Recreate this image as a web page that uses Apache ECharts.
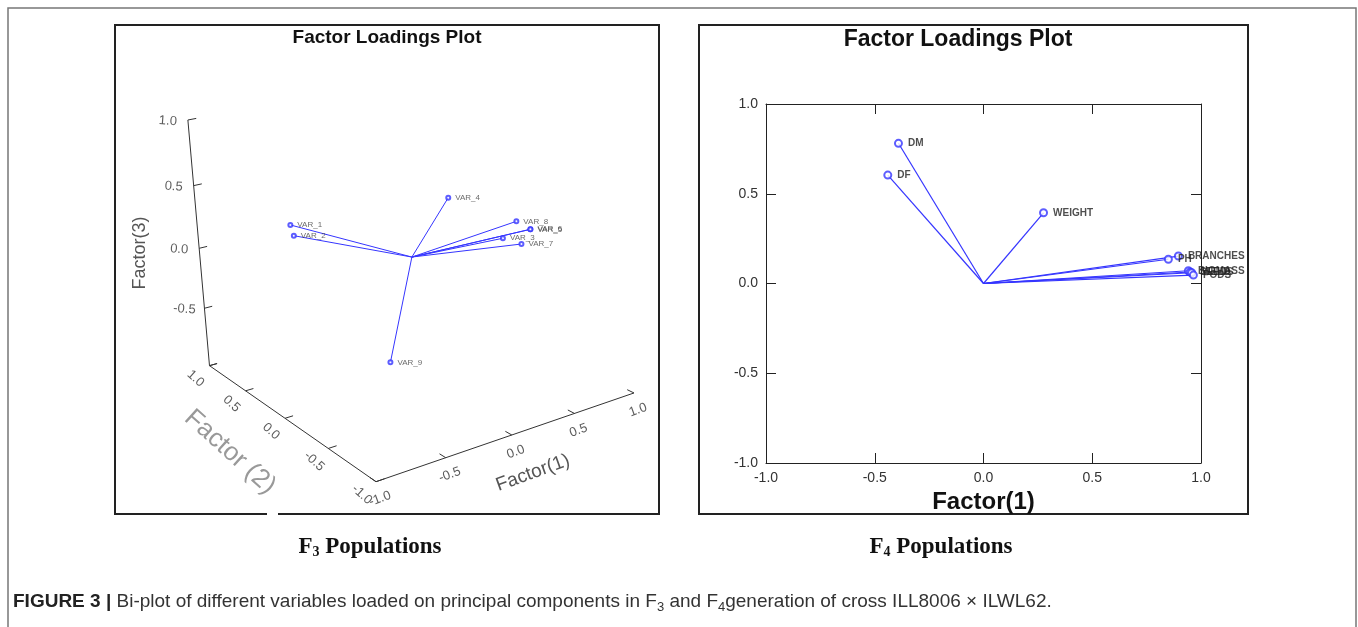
<!DOCTYPE html>
<html>
<head>
<meta charset="utf-8">
<script src="https://cdn.jsdelivr.net/npm/echarts@6/dist/echarts.min.js"></script>
<style>
  html, body { margin: 0; padding: 0; background: #fff; }
  #main { width: 1358px; height: 627px; }
</style>
</head>
<body>
<div id="main"></div>
<script>
// F3 population: loadings on Factor(1), Factor(2), Factor(3)
var f3Names = ['VAR_1', 'VAR_2', 'VAR_3', 'VAR_4', 'VAR_5', 'VAR_6', 'VAR_7', 'VAR_8', 'VAR_9'];
var f3Factor1 = [-0.735, -0.744, 0.740, 0.404, 0.886, 0.930, 0.770, 0.937, -0.111];
var f3Factor2 = [0.25, 0.20, 0.00, 0.15, -0.10, -0.05, -0.15, 0.10, 0.10];
var f3Factor3 = [0.353, 0.290, -0.040, 0.320, 0.027, 0.001, -0.046, 0.018, -0.867];

// F4 population: loadings on Factor(1), Factor(2)
var f4Names = ['DM', 'DF', 'WEIGHT', 'BRANCHES', 'PH', 'BIOMASS', 'SEEDS', 'YIELD', 'PODS'];
var f4Factor1 = [-0.391, -0.440, 0.276, 0.896, 0.850, 0.942, 0.950, 0.957, 0.965];
var f4Factor2 = [0.781, 0.604, 0.394, 0.153, 0.135, 0.071, 0.064, 0.060, 0.047];

// tick labels
var axisTicks3d = [-1.0, -0.5, 0.0, 0.5, 1.0];

(function () {
  var myChart = echarts.init(document.getElementById('main'));
  var blue = '#3535ff';

  // perspective view of the 3d box, front corner = (-1,-1,-1)
  var cam = {
    cx: 376, cy: 481.7,
    A: [143.35, -49.3], B: [-100.3, -69.9], D: [-3.35, -129.4],
    a: 0.0556, b: 0.1024, c: -0.0514
  };
  function project(f1, f2, f3) {
    var u = f1 + 1, v = f2 + 1, w = f3 + 1;
    var d = 1 + cam.a * u + cam.b * v + cam.c * w;
    return [
      cam.cx + (u * cam.A[0] + v * cam.B[0] + w * cam.D[0]) / d,
      cam.cy + (u * cam.A[1] + v * cam.B[1] + w * cam.D[1]) / d
    ];
  }

  var origin = project(0, 0, 0);
  var vecLines = [], vecPts = [];
  for (var i = 0; i < f3Names.length; i++) {
    var p = project(f3Factor1[i], f3Factor2[i], f3Factor3[i]);
    vecLines.push({ coords: [origin, p] });
    vecPts.push({ name: f3Names[i], value: p });
  }

  var axisSegs = [
    { coords: [project(-1, -1, -1), project(1, -1, -1)] },
    { coords: [project(-1, -1, -1), project(-1, 1, -1)] },
    { coords: [project(-1, 1, -1), project(-1, 1, 1)] }
  ];
  var tl = 0.06;
  var f1Labels = [], f2Labels = [], f3Labels = [];
  axisTicks3d.forEach(function (t) {
    var p1 = project(t, -1, -1);
    axisSegs.push({ coords: [p1, project(t, -1 + tl, -1)] });
    f1Labels.push({ name: t.toFixed(1), value: [p1[0] + 4, p1[1] + 17] });
    var p2 = project(-1, t, -1);
    axisSegs.push({ coords: [p2, project(-1 + tl, t, -1)] });
    f2Labels.push({ name: t.toFixed(1), value: [p2[0] - 14, p2[1] + 13] });
    var p3 = project(-1, 1, t);
    axisSegs.push({ coords: [p3, project(-1 + tl, 1, t)] });
    // the bottom of the vertical axis carries no label
    if (t > -1) f3Labels.push({ name: t.toFixed(1), value: [p3[0] - 20, p3[1] + 1] });
  });

  function labelSeries(data, rotate, size, color) {
    return {
      type: 'scatter', xAxisIndex: 0, yAxisIndex: 0, silent: true,
      symbolSize: 1, itemStyle: { color: 'rgba(0,0,0,0)' },
      label: {
        show: true, position: 'inside', formatter: '{b}', rotate: rotate,
        fontFamily: 'Liberation Sans', fontSize: size, color: color
      },
      data: data
    };
  }

  // F4 vectors
  var f4Lines = [], f4Pts = [];
  for (var j = 0; j < f4Names.length; j++) {
    f4Lines.push({ coords: [[0, 0], [f4Factor1[j], f4Factor2[j]]] });
    f4Pts.push({ name: f4Names[j], value: [f4Factor1[j], f4Factor2[j]] });
  }

  var tickFmt = function (v) { return v.toFixed(1); };
  var box = { stroke: '#222', lineWidth: 2 };
  var edgeLine = { show: true, onZero: false, lineStyle: { color: '#222' } };
  var edgeTick = { show: true, inside: true, length: 10, lineStyle: { color: '#222' } };

  var option = {
    animation: false,
    grid: [
      { left: 0, top: 0, width: 1358, height: 627 },
      { left: 766, top: 104, width: 435, height: 359 }
    ],
    xAxis: [
      { gridIndex: 0, type: 'value', min: 0, max: 1358, show: false },
      {
        gridIndex: 1, type: 'value', min: -1, max: 1, interval: 0.5, position: 'bottom',
        name: 'Factor(1)', nameLocation: 'middle', nameGap: 24,
        nameTextStyle: { fontFamily: 'Liberation Sans', fontSize: 24, fontWeight: 'bold', color: '#111' },
        axisLine: edgeLine, axisTick: edgeTick,
        axisLabel: { formatter: tickFmt, fontFamily: 'Liberation Sans', fontSize: 14, color: '#333', margin: 8 },
        splitLine: { show: false }
      },
      {
        gridIndex: 1, type: 'value', min: -1, max: 1, interval: 0.5, position: 'top',
        axisLine: edgeLine, axisTick: edgeTick,
        axisLabel: { show: false }, splitLine: { show: false }
      }
    ],
    yAxis: [
      { gridIndex: 0, type: 'value', min: 0, max: 627, inverse: true, show: false },
      {
        gridIndex: 1, type: 'value', min: -1, max: 1, interval: 0.5, position: 'left',
        axisLine: edgeLine, axisTick: edgeTick,
        axisLabel: { formatter: tickFmt, fontFamily: 'Liberation Sans', fontSize: 14, color: '#333', margin: 8 },
        splitLine: { show: false }
      },
      {
        gridIndex: 1, type: 'value', min: -1, max: 1, interval: 0.5, position: 'right',
        axisLine: edgeLine, axisTick: edgeTick,
        axisLabel: { show: false }, splitLine: { show: false }
      }
    ],
    series: [
      // 3d box axes
      {
        type: 'lines', coordinateSystem: 'cartesian2d', xAxisIndex: 0, yAxisIndex: 0, silent: true,
        lineStyle: { color: '#333', width: 1, opacity: 1 },
        data: axisSegs
      },
      labelSeries(f1Labels, 20, 13, '#333'),
      labelSeries(f2Labels, -42, 13, '#333'),
      labelSeries(f3Labels, -4, 13, '#333'),
      // F3 loading vectors
      {
        type: 'lines', coordinateSystem: 'cartesian2d', xAxisIndex: 0, yAxisIndex: 0, silent: true,
        lineStyle: { color: blue, width: 1, opacity: 1 },
        data: vecLines
      },
      {
        type: 'scatter', xAxisIndex: 0, yAxisIndex: 0, silent: true,
        symbol: 'emptyCircle', symbolSize: 4,
        itemStyle: { color: blue, borderWidth: 1 },
        label: {
          show: true, position: 'right', distance: 4, formatter: '{b}',
          fontFamily: 'Liberation Sans', fontSize: 8, color: '#444'
        },
        data: vecPts
      },
      // F4 loading vectors
      {
        type: 'lines', coordinateSystem: 'cartesian2d', xAxisIndex: 1, yAxisIndex: 1, silent: true,
        lineStyle: { color: blue, width: 1.2, opacity: 1 },
        data: f4Lines
      },
      {
        type: 'scatter', xAxisIndex: 1, yAxisIndex: 1, silent: true,
        symbol: 'emptyCircle', symbolSize: 7,
        itemStyle: { color: blue, borderWidth: 1.2 },
        label: {
          show: true, position: 'right', distance: 5, formatter: '{b}',
          fontFamily: 'Liberation Sans', fontSize: 10, fontWeight: 'bold', color: '#222'
        },
        data: f4Pts
      }
    ],
    graphic: [
      // outer figure frame
      { type: 'polyline', shape: { points: [[8, 627], [8, 8], [1356, 8], [1356, 627]] }, style: { stroke: '#777', lineWidth: 1.5, fill: null } },
      // left panel box (with small gap at bottom)
      { type: 'polyline', shape: { points: [[267, 514], [115, 514], [115, 25], [659, 25], [659, 514], [278, 514]] }, style: { stroke: box.stroke, lineWidth: box.lineWidth, fill: null } },
      // right panel box
      { type: 'rect', shape: { x: 699, y: 25, width: 549, height: 489 }, style: { stroke: box.stroke, lineWidth: box.lineWidth, fill: null } },
      // titles
      { type: 'text', x: 387, y: 38, style: { text: 'Factor Loadings Plot', font: 'bold 19px "Liberation Sans"', fill: '#111', align: 'center', verticalAlign: 'middle' } },
      { type: 'text', x: 958, y: 40, style: { text: 'Factor Loadings Plot', font: 'bold 23px "Liberation Sans"', fill: '#111', align: 'center', verticalAlign: 'middle' } },
      // 3d axis names
      { type: 'text', x: 140, y: 253, rotation: Math.PI / 2, style: { text: 'Factor(3)', font: '18px "Liberation Sans"', fill: '#555', align: 'center', verticalAlign: 'middle' } },
      { type: 'text', x: 533, y: 473, rotation: 20 * Math.PI / 180, style: { text: 'Factor(1)', font: '19px "Liberation Sans"', fill: '#555', align: 'center', verticalAlign: 'middle' } },
      { type: 'text', x: 230, y: 452, rotation: -42 * Math.PI / 180, style: { text: 'Factor (2)', font: '26px "Liberation Sans"', fill: '#999', align: 'center', verticalAlign: 'middle' } },
      // panel captions
      {
        type: 'text', x: 370, y: 547,
        style: {
          text: '{b|F}{s|3}{b| Populations}', align: 'center', verticalAlign: 'middle',
          rich: {
            b: { fontFamily: 'Liberation Serif', fontWeight: 'bold', fontSize: 23, fill: '#111', lineHeight: 28 },
            s: { fontFamily: 'Liberation Serif', fontWeight: 'bold', fontSize: 14, fill: '#111', lineHeight: 28, padding: [11, 0, 0, 0] }
          }
        }
      },
      {
        type: 'text', x: 941, y: 547,
        style: {
          text: '{b|F}{s|4}{b| Populations}', align: 'center', verticalAlign: 'middle',
          rich: {
            b: { fontFamily: 'Liberation Serif', fontWeight: 'bold', fontSize: 23, fill: '#111', lineHeight: 28 },
            s: { fontFamily: 'Liberation Serif', fontWeight: 'bold', fontSize: 14, fill: '#111', lineHeight: 28, padding: [11, 0, 0, 0] }
          }
        }
      },
      // figure caption
      {
        type: 'text', x: 13, y: 602,
        style: {
          text: '{h|FIGURE 3 | }{n|Bi-plot of different variables loaded on principal components in F}{s|3}{n| and F}{s|4}{n|generation of cross ILL8006 × ILWL62.}',
          align: 'left', verticalAlign: 'middle',
          rich: {
            h: { fontFamily: 'Liberation Sans', fontWeight: 'bold', fontSize: 19, fill: '#222', lineHeight: 24 },
            n: { fontFamily: 'Liberation Sans', fontSize: 19, fill: '#333', lineHeight: 24 },
            s: { fontFamily: 'Liberation Sans', fontSize: 13, fill: '#333', lineHeight: 24, padding: [10, 0, 0, 0] }
          }
        }
      }
    ]
  };

  myChart.setOption(option);
  window.addEventListener('resize', function () {
    myChart.resize();
  });
})();
</script>
</body>
</html>
